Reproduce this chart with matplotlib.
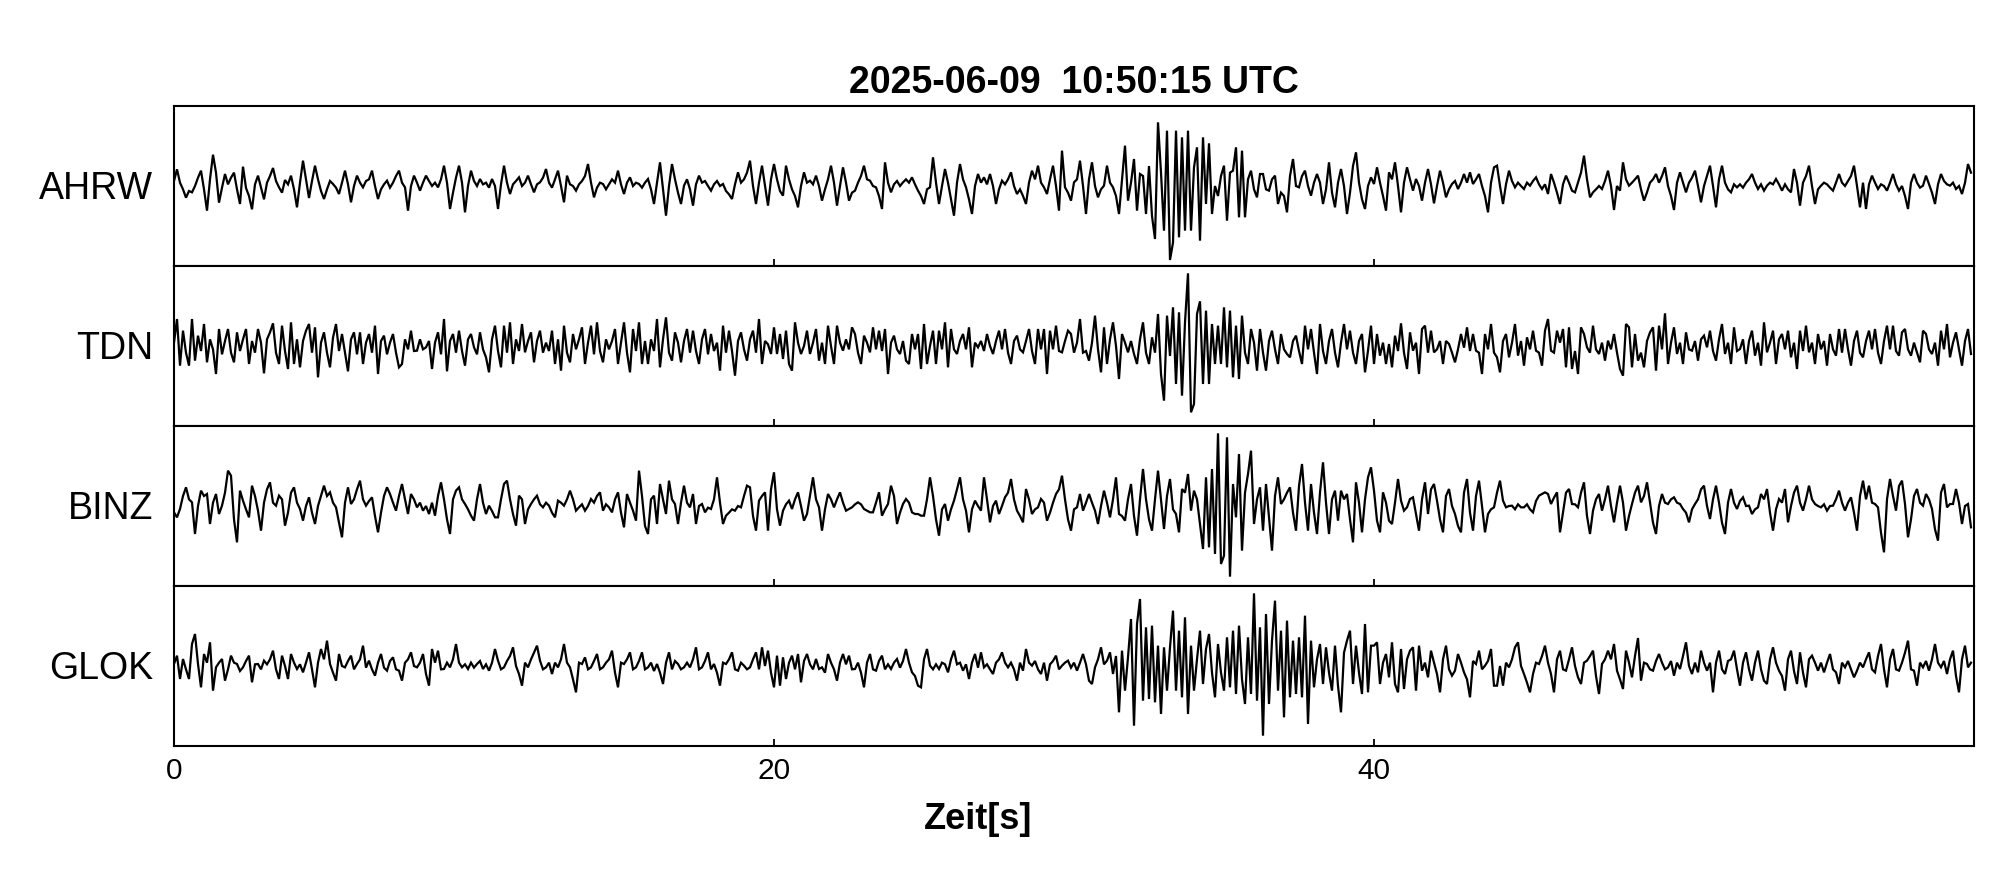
import numpy as np
import matplotlib
matplotlib.use("Agg")
import matplotlib.pyplot as plt

title = "2025-06-09  10:50:15 UTC"
xlabel = "Zeit[s]"
stations = ["AHRW", "TDN", "BINZ", "GLOK"]
xticks = [0, 20, 40]
dt = 0.1  # s between samples

ahrw = [
    15,50,10,-10,-35,-15,-19,0,25,46,-10,-74,20,94,40,-50,-5,36,5,25,
    40,-10,-54,58,-6,-30,-70,5,31,-5,-40,10,30,54,15,-4,-20,18,5,31,
    -10,-64,10,76,20,-36,15,61,20,-15,-39,-10,15,6,-5,-24,10,46,5,-49,
    0,31,10,-4,15,20,46,0,-39,-10,5,16,-5,10,30,46,10,-4,-74,0,
    31,10,-14,10,31,15,0,10,-4,20,61,10,-69,-20,25,61,10,-79,0,46,
    15,0,21,5,10,-5,21,0,-69,5,61,10,-24,5,15,26,0,10,31,5,
    -19,5,11,25,51,10,-5,20,46,0,-49,31,5,0,-14,5,15,30,66,10,
    -34,-5,10,6,-10,5,20,10,46,5,-24,10,26,0,10,6,-5,10,21,-10,
    -54,10,71,-10,-89,0,66,20,-20,-54,1,20,-10,-59,5,31,10,15,0,-14,
    5,15,0,6,-15,-25,-39,5,41,10,20,40,76,0,-54,10,61,0,-59,20,
    66,20,-15,-29,61,20,-10,-30,-64,0,41,10,16,5,31,0,-44,-10,20,61,
    10,-59,0,56,10,-44,-20,-14,10,30,61,20,16,0,-4,-30,-69,71,10,-19,
    5,15,0,11,20,10,26,5,-14,-30,-54,-10,-4,86,10,-54,0,51,10,-40,
    -89,10,66,20,-4,-40,-84,0,36,10,26,5,36,0,-54,-10,16,5,20,41,
    0,-24,-10,-30,-54,10,46,20,61,10,-4,-24,20,61,0,-74,106,-4,-20,-44,
    11,20,76,0,-84,20,71,0,-34,-10,1,61,10,-4,-30,-84,20,121,-44,10,
    81,-74,36,30,-84,60,-90,-159,191,40,-134,166,-222,-170,166,-154,146,-134,166,-134,
    56,116,-164,146,-54,128,-84,0,-30,30,61,-104,40,46,116,-94,106,-94,20,46,
    -10,-34,36,36,-10,-14,20,31,-54,-20,-30,-79,30,81,0,-4,30,46,0,-29,
    10,36,10,-54,-10,71,-20,-64,10,51,0,-84,-20,60,101,10,-40,-69,0,26,
    6,56,10,-30,-74,41,20,71,0,-79,10,56,20,-14,21,0,-44,10,51,5,
    -52,0,46,10,-34,-10,6,15,-9,10,36,10,41,6,20,36,0,-30,-79,10,
    56,61,0,-54,5,46,15,-4,10,0,-9,10,1,15,26,5,-9,5,-24,36,
    10,-20,-54,5,31,10,-14,-19,10,40,91,20,-34,-19,-10,0,-9,15,46,0,
    -72,0,-14,71,20,1,10,20,31,-10,-44,-19,10,20,36,10,30,56,0,-30,
    -72,10,41,10,-19,10,25,46,0,-49,0,30,61,0,-64,20,61,10,-10,-19,
    5,-4,5,-5,10,20,36,10,-9,5,-14,1,10,5,21,5,-14,5,-10,-19,
    51,10,-59,10,30,61,0,-54,-10,1,10,5,-5,-14,10,36,10,0,15,30,
    61,0,-64,10,-69,5,31,10,-9,5,0,-14,10,36,5,-14,0,-30,-69,10,
    36,10,-5,1,31,5,-20,-54,5,36,15,5,1,10,-9,0,-24,10,66,40,
]

tdn = [
    10,81,-59,46,-20,-59,81,-44,31,-15,66,-49,20,-10,-84,51,-25,15,51,-20,
    -49,41,-15,20,51,-54,15,-20,51,10,-82,20,41,68,-20,-54,61,-15,-69,71,
    -54,20,-64,15,46,66,-20,56,-94,10,41,-20,-64,25,66,-15,36,-20,-76,20,
    41,-25,41,-54,10,36,-20,61,-84,15,31,-25,10,36,-20,-64,-54,20,-10,46,
    -15,-14,20,-10,-4,15,-69,10,41,-25,81,-76,15,36,-20,46,-15,-59,20,36,
    -4,-25,41,-10,-34,-79,20,61,-15,-64,61,-20,71,-54,20,-15,66,-19,15,41,
    -49,15,46,-20,10,-15,46,-54,20,-74,61,-20,-49,36,-10,20,56,-54,10,61,
    -25,71,-15,-49,20,-10,15,51,-54,10,71,-20,-79,51,-15,71,-54,15,-54,20,
    -15,81,-64,20,86,-20,-44,41,10,-49,15,51,-20,46,-15,-54,20,51,-25,36,
    -15,10,-74,61,-20,46,-15,-89,15,41,-10,-44,20,46,-20,81,-54,15,5,-24,
    56,-24,36,-39,46,-54,-74,71,10,-24,0,46,-24,10,51,-44,10,-54,61,0,
    -54,61,10,-14,20,-10,56,36,-20,-54,31,10,-19,56,-10,46,-15,51,-84,10,
    31,-10,-24,15,-44,-54,36,-10,36,-69,66,-54,0,46,-54,46,-10,71,-64,51,
    -10,-24,15,36,-10,56,-64,10,-4,15,-15,36,0,-24,15,46,-10,51,-20,-54,
    15,31,-10,-19,15,51,-15,-54,51,-10,51,-84,46,-10,61,-15,-19,15,46,36,
    -20,10,81,-20,-15,-44,10,91,-10,-79,56,-54,20,71,0,-99,36,10,-19,15,
    -24,-54,20,71,-20,-54,26,-20,96,-84,-164,91,-30,116,-114,101,-149,71,218,-199,
    -174,96,134,-114,106,-114,66,-54,61,-54,116,-64,106,-94,61,-99,91,-20,-54,51,
    10,-74,51,-20,-74,15,46,-10,-54,36,-10,-24,-34,15,31,-15,-54,61,-10,51,
    -20,-84,66,-15,-54,15,51,-20,-64,10,66,-10,46,-20,-54,15,36,-79,-14,61,
    -54,36,-29,10,-54,6,-64,31,-15,68,-20,-69,41,-14,10,-84,51,61,-20,46,
    -19,-10,15,-54,15,6,-20,-49,-10,36,-5,56,-15,36,-14,-20,-84,36,-10,66,
    -20,-34,-79,15,36,-34,10,66,-29,15,-59,26,-10,46,-14,-20,-59,46,81,-14,
    -20,46,10,51,-64,56,-69,-15,-84,56,36,-4,-20,61,-10,-24,10,-44,16,-10,
    36,-20,-69,-89,66,56,-64,36,-44,-20,-64,15,41,56,-74,61,-10,98,-54,10,
    56,-24,10,-54,41,-10,-14,15,-44,20,31,-4,46,-15,-44,20,66,-24,10,-54,
    56,-15,-9,20,-54,15,46,-29,10,-59,71,-19,10,46,-54,20,36,-10,46,-34,
    10,-69,46,-15,61,-19,10,-54,36,-10,15,-59,36,-10,-29,51,-20,51,-10,-59,
    15,46,-20,-34,15,46,-10,51,-20,-54,15,61,-10,61,-15,-29,41,51,-10,-29,
    10,-20,-49,46,36,-10,-24,10,-59,46,-10,66,-34,10,41,-10,-59,15,51,-24,
]

binz = [
    -19,-34,-9,30,56,20,11,-84,0,46,30,36,-54,10,36,-24,1,40,106,91,
    -40,-109,46,16,-10,-34,61,30,-14,-74,10,50,71,10,1,31,20,-59,-20,40,
    56,10,-9,-44,0,26,-20,-54,0,30,61,30,41,10,-4,-50,-94,10,56,6,
    20,50,76,20,1,15,26,-30,-79,-20,30,56,36,10,-14,30,66,20,-24,36,
    20,-4,10,-14,0,-24,10,-29,30,71,20,-40,-84,20,46,56,20,6,-10,-29,
    -44,20,66,10,-24,1,-15,-34,-34,20,66,76,20,-24,-59,31,20,-54,-10,6,
    20,31,5,-4,10,1,-20,-34,16,10,1,20,46,20,-14,-4,5,-14,0,21,
    10,30,41,-14,5,-4,-19,20,41,-20,-64,36,10,-14,-44,106,30,-60,-84,20,
    31,-54,66,20,-24,76,20,6,-54,10,61,10,-4,36,-54,0,6,-19,-5,-9,
    20,86,10,-54,-29,-20,-10,-14,0,-4,30,61,56,-30,-74,16,30,41,-74,50,
    101,-10,-59,-14,5,16,-9,20,41,0,-44,-24,30,86,20,-4,-74,-10,36,20,
    -4,20,41,10,-14,-9,-4,5,11,5,-9,-14,-19,-19,10,41,-29,-10,6,61,
    30,-54,-20,6,21,10,-19,-24,-24,-29,-29,20,86,30,-40,-89,-10,6,-44,-10,
    16,50,86,20,-14,-79,-10,16,0,-14,86,20,-49,0,16,-24,0,26,40,81,
    20,-14,-30,-49,51,20,-24,-10,-4,21,10,-44,-20,10,36,50,91,20,-40,-74,
    -10,-4,36,-14,10,36,10,-14,-54,0,46,10,-34,20,86,-24,-30,-44,20,66,
    -30,-89,20,111,20,-40,-74,20,106,20,-69,30,81,-10,-24,-79,51,40,96,-14,
    46,20,-54,-129,86,-124,111,-144,218,-174,-149,206,-212,66,-34,156,-134,40,96,166,
    -54,20,56,-74,66,-34,-134,30,86,6,20,40,56,-20,-74,60,126,10,-74,66,
    -20,-84,40,131,10,-84,20,46,-44,46,20,36,-40,-109,71,10,-79,20,86,116,
    46,-44,-79,41,10,-44,-54,10,81,16,-14,-4,21,26,-24,-74,20,71,-24,50,
    66,16,-40,-79,30,51,0,-24,-60,-79,40,81,-20,-74,30,76,0,-79,-24,-10,
    -4,40,76,16,-4,0,1,-10,5,-4,-4,5,-10,-19,15,31,36,41,36,6,
    25,41,-79,-20,40,51,6,5,-4,40,71,-30,-84,-14,20,36,-14,20,61,0,
    -49,10,61,10,-74,-30,6,40,61,11,30,71,10,-50,-84,0,36,10,6,20,
    26,10,6,-9,-20,-49,-10,6,20,50,61,0,-39,20,61,10,-50,-84,10,51,
    10,-9,15,26,0,1,-24,-10,-4,36,20,51,-20,-74,-10,21,10,51,-49,0,
    40,61,10,-14,20,61,20,6,0,-4,5,-14,0,1,20,46,10,-14,10,26,
    -20,-74,30,76,20,61,10,6,-4,-80,-139,20,81,30,-14,60,76,6,-94,-40,
    30,51,10,1,36,20,-9,-70,-104,40,66,-4,6,6,51,10,-54,0,6,-64,
]

glok = [
    6,31,-39,21,-10,-39,66,96,6,-64,36,10,71,-74,-4,10,21,-44,-10,31,
    10,6,-15,-4,15,31,-49,5,6,-10,16,5,20,46,-10,-39,31,0,-39,36,
    10,-9,5,-19,10,41,-10,-64,10,51,20,76,6,-20,-44,36,0,-4,15,31,
    -10,6,20,61,-5,16,-10,-29,10,36,-5,-14,15,26,-10,-14,-44,10,20,41,
    0,-4,10,36,-24,-59,51,10,46,-10,-9,10,-4,20,66,10,-4,5,-9,10,
    -5,6,15,-9,5,-14,10,51,16,-10,-4,15,30,56,0,-24,-59,10,-4,20,
    40,61,16,-10,-4,10,-24,10,-4,20,66,10,-4,-40,-79,10,6,26,-10,-4,
    15,36,-10,-4,10,20,46,-20,-64,10,6,20,41,-10,-4,15,41,-10,-4,10,
    -15,6,-20,-54,10,41,-10,15,6,-10,-4,10,-4,20,56,-10,-4,15,41,-10,
    6,-20,-59,10,6,20,41,-10,-14,10,1,-10,-4,20,41,-10,56,0,46,-20,
    -64,31,-59,26,-39,10,31,-10,36,-49,15,36,5,-10,21,-9,-4,-20,36,10,
    -10,-44,10,36,5,31,-10,-9,10,-20,-64,10,36,-10,-14,15,31,-10,5,-9,
    10,21,-5,15,51,10,-19,-30,-59,-64,20,51,1,-10,5,-9,10,5,-19,20,
    46,5,10,-14,5,-39,10,36,-5,41,-4,5,-10,-24,10,20,41,10,-4,10,
    -10,-44,10,-14,51,10,1,15,-10,-24,10,-44,5,15,31,-10,1,10,16,-5,
    10,-14,10,36,5,-44,-54,-4,20,56,5,16,41,-24,30,-139,46,-74,26,141,
    -179,126,201,-104,116,-99,121,-109,61,-144,56,-74,56,166,-74,106,-94,146,-144,61,
    -74,20,106,-54,51,96,-20,-94,66,-20,-74,86,-64,106,-84,121,-40,-114,86,-84,
    218,-104,116,-209,156,-114,76,196,-74,106,-154,136,-94,76,-84,86,-94,151,-174,76,
    -64,20,66,-54,56,-20,-74,61,-60,-139,40,76,106,-54,61,-20,-84,126,-79,61,
    61,71,-54,10,36,-34,71,-54,-79,51,-69,20,46,56,-74,61,-14,10,-34,46,
    10,-24,-79,20,61,-10,-29,-14,36,10,-19,-40,-94,15,6,46,-10,1,15,51,
    -59,-59,0,-59,10,-4,20,56,71,0,-24,-50,-79,-24,10,6,30,61,10,-24,
    -79,20,46,-10,-14,20,56,0,-34,-54,10,16,30,46,-30,-84,6,20,46,20,
    66,-14,-40,-69,46,10,-34,30,84,-44,10,6,-10,-14,15,36,10,-10,-4,15,
    -29,10,-9,30,71,0,-24,10,-19,46,10,-14,10,-79,10,46,-10,-24,15,20,
    46,-10,-59,10,41,-10,-44,10,46,-10,-44,-54,20,56,10,-14,-30,-74,20,46,
    -15,-54,41,-20,-64,20,31,10,-14,10,-19,10,36,-10,-19,-54,10,-4,15,-10,
    -34,-14,10,-4,20,41,-10,-19,30,66,-10,-64,20,51,-10,-14,10,40,76,-10,
    -14,-59,10,-4,15,-14,20,66,10,-4,15,-24,20,46,-30,-79,20,61,-4,10,
]

traces = [ahrw, tdn, binz, glok]

plt.rcParams['font.family'] = ['Liberation Sans', 'DejaVu Sans']

W, H = 2005, 880
fig = plt.figure(figsize=(W / 100, H / 100), dpi=100)
fig.patch.set_facecolor('white')

left, right = 174 / W, 1974 / W
top, bottom = 1 - 106 / H, 1 - 746 / H
h = (top - bottom) / len(stations)

axes = []
for i, (name, tr) in enumerate(zip(stations, traces)):
    ax = fig.add_axes([left, top - (i + 1) * h, right - left, h])
    y = np.asarray(tr, dtype=float)
    t = np.arange(len(y)) * dt
    ax.plot(t, y, color='black', lw=1.6, solid_joinstyle='miter')
    ax.set_xlim(0, 60)
    ax.set_ylim(-240, 240)
    ax.set_yticks([])
    ax.set_xticks(xticks)
    ax.tick_params(axis='x', direction='in', length=5, width=1.3,
                   labelsize=21.5, pad=8, top=False, bottom=True)
    if i < len(stations) - 1:
        ax.tick_params(labelbottom=False)
    for s in ax.spines.values():
        s.set_linewidth(1.5)
        s.set_zorder(5)
    ax.text(-21 / 1800, 0.48, name, transform=ax.transAxes, ha='right',
            va='center', fontsize=27)
    axes.append(ax)

axes[0].set_title(title, fontsize=27, fontweight='bold', pad=9)
axes[-1].set_xlabel(xlabel, fontsize=26, fontweight='bold', labelpad=12,
                    x=(978 - 174) / 1800)

fig.savefig('out.png', dpi=100, facecolor='white')
